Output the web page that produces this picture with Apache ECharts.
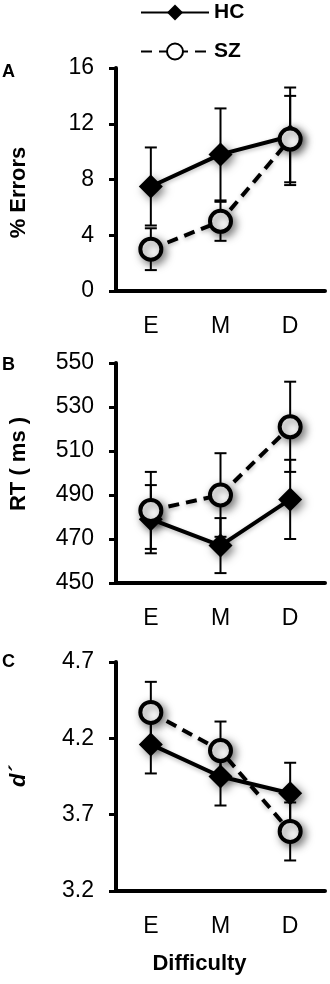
<!DOCTYPE html>
<html>
<head>
<meta charset="utf-8">
<script src="https://cdn.jsdelivr.net/npm/echarts@6/dist/echarts.min.js"></script>
<style>
  html, body { margin: 0; padding: 0; background: #fff; }
  #chart { width: 330px; height: 984px; }
</style>
</head>
<body>
<div id="chart"></div>
<script>
const difficulty = ['E', 'M', 'D'];

// panel A: % errors
const errorsHC = [7.5, 9.8, 11.1];
const errorsHCsem = [2.8, 3.3, 3.5];
const errorsSZ = [3.0, 5.0, 10.9];
const errorsSZsem = [1.5, 1.4, 3.1];
const errorsTicks = [0, 4, 8, 12, 16];

// panel B: RT (ms)
const rtHC = [479, 467, 488];
const rtHCsem = [15.5, 12.5, 18];
const rtSZ = [483, 490, 521];
const rtSZsem = [17.5, 19, 20.5];
const rtTicks = [450, 470, 490, 510, 530, 550];

// panel C: d'
const dprimeHC = [4.16, 3.95, 3.84];
const dprimeHCsem = [0.19, 0.19, 0.2];
const dprimeSZ = [4.37, 4.12, 3.59];
const dprimeSZsem = [0.2, 0.19, 0.19];
const dprimeTicks = [3.2, 3.7, 4.2, 4.7];

const FONT = "'Liberation Sans', Arial, sans-serif";

const chart = echarts.init(document.getElementById('chart'));

const panels = [
  { top: 68, height: 223, ticks: errorsTicks, name: '% Errors', namePad: [0, 26, 0, 0],
    hc: errorsHC, hcErr: errorsHCsem, sz: errorsSZ, szErr: errorsSZsem },
  { top: 363, height: 220, ticks: rtTicks, name: 'RT ( ms )', namePad: [0, 0, 0, 18],
    hc: rtHC, hcErr: rtHCsem, sz: rtSZ, szErr: rtSZsem },
  { top: 662, height: 229, ticks: dprimeTicks, name: 'd\u00b4', namePad: [0, 0, 0, 0], italic: true,
    hc: dprimeHC, hcErr: dprimeHCsem, sz: dprimeSZ, szErr: dprimeSZsem }
];

function errorData(means, errs) {
  return means.map((m, i) => [i, m - errs[i], m + errs[i]]);
}

function renderErrorBar(params, api) {
  const lo = api.coord([api.value(0), api.value(1)]);
  const hi = api.coord([api.value(0), api.value(2)]);
  const hw = 6;
  const style = { stroke: '#000', lineWidth: 2 };
  return {
    type: 'group',
    children: [
      { type: 'line', shape: { x1: lo[0], y1: lo[1], x2: hi[0], y2: hi[1] }, style: style },
      { type: 'line', shape: { x1: hi[0] - hw, y1: hi[1], x2: hi[0] + hw, y2: hi[1] }, style: style },
      { type: 'line', shape: { x1: lo[0] - hw, y1: lo[1], x2: lo[0] + hw, y2: lo[1] }, style: style }
    ]
  };
}

const markerShadow = {
  shadowColor: 'rgba(0,0,0,0.5)',
  shadowBlur: 8,
  shadowOffsetX: 3,
  shadowOffsetY: 3
};

const grid = [], xAxis = [], yAxis = [], series = [];

panels.forEach((p, i) => {
  grid.push({ left: 112, width: 213, top: p.top, height: p.height });
  xAxis.push({
    type: 'category',
    gridIndex: i,
    data: difficulty,
    boundaryGap: true,
    axisLine: { lineStyle: { color: '#000', width: 4 } },
    axisTick: { length: 6, lineStyle: { color: '#000', width: 3 } },
    axisLabel: { color: '#000', fontSize: 23, fontFamily: FONT, margin: 24 },
    splitLine: { show: false },
    name: i === 2 ? 'Difficulty' : '',
    nameLocation: 'middle',
    nameGap: 62,
    nameTextStyle: { color: '#000', fontSize: 22, fontWeight: 'bold', fontFamily: FONT, padding: [0, 42, 0, 0] }
  });
  yAxis.push({
    type: 'value',
    gridIndex: i,
    min: p.ticks[0],
    max: p.ticks[p.ticks.length - 1],
    axisLine: { show: true, lineStyle: { color: '#000', width: 4 } },
    axisTick: { show: true, length: 7, customValues: p.ticks, lineStyle: { color: '#000', width: 3 } },
    axisLabel: { color: '#000', fontSize: 23, fontFamily: FONT, margin: 22, customValues: p.ticks },
    splitLine: { show: false },
    name: p.name,
    nameLocation: 'middle',
    nameRotate: 90,
    nameGap: 86,
    nameTextStyle: {
      color: '#000', fontSize: 22, fontWeight: 'bold', fontFamily: FONT,
      fontStyle: p.italic ? 'italic' : 'normal', padding: p.namePad
    }
  });

  series.push({
    name: 'HC err', type: 'custom', xAxisIndex: i, yAxisIndex: i, z: 1,
    renderItem: renderErrorBar, encode: { x: 0, y: [1, 2] },
    data: errorData(p.hc, p.hcErr), silent: true
  });
  series.push({
    name: 'SZ err', type: 'custom', xAxisIndex: i, yAxisIndex: i, z: 1,
    renderItem: renderErrorBar, encode: { x: 0, y: [1, 2] },
    data: errorData(p.sz, p.szErr), silent: true
  });
  series.push({
    name: 'HC', type: 'line', xAxisIndex: i, yAxisIndex: i, z: 3,
    data: p.hc,
    symbol: 'diamond', symbolSize: 24,
    itemStyle: Object.assign({ color: '#000' }, markerShadow),
    lineStyle: { color: '#000', width: 4, shadowColor: 'rgba(0,0,0,0.25)', shadowBlur: 4, shadowOffsetY: 2 }
  });
  series.push({
    name: 'SZ', type: 'line', xAxisIndex: i, yAxisIndex: i, z: 4,
    data: p.sz,
    symbol: 'circle', symbolSize: 21,
    itemStyle: Object.assign({ color: '#fff', borderColor: '#000', borderWidth: 4 }, markerShadow),
    lineStyle: { color: '#000', width: 4, type: [11, 7], shadowColor: 'rgba(0,0,0,0.25)', shadowBlur: 4, shadowOffsetY: 2 }
  });
});

const option = {
  animation: false,
  backgroundColor: '#fff',
  title: [
    { text: 'A', left: 2, top: 63 },
    { text: 'B', left: 2, top: 356 },
    { text: 'C', left: 2, top: 653 }
  ].map(t => Object.assign(t, {
    padding: 0,
    textStyle: { color: '#000', fontSize: 18, fontWeight: 'bold', fontFamily: FONT }
  })),
  legend: {
    data: ['HC', 'SZ'],
    orient: 'vertical',
    left: 140,
    top: 2,
    padding: 0,
    itemWidth: 68,
    itemHeight: 20,
    itemGap: 18,
    itemTextGap: 4,
    textStyle: { color: '#000', fontSize: 21, fontWeight: 'bold', fontFamily: FONT },
    itemStyle: { shadowBlur: 0, shadowOffsetX: 0, shadowOffsetY: 0, shadowColor: 'transparent' },
    lineStyle: { shadowBlur: 0, shadowOffsetY: 0, shadowColor: 'transparent' }
  },
  grid: grid,
  xAxis: xAxis,
  yAxis: yAxis,
  series: series
};

chart.setOption(option);
</script>
</body>
</html>
